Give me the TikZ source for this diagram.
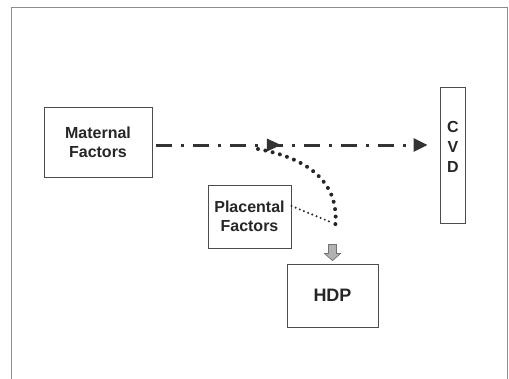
\documentclass[tikz,border=0pt]{standalone}
\usepackage{fontspec}
\setmainfont{Liberation Sans}
\usetikzlibrary{arrows.meta,decorations.markings}

\begin{document}
\begin{tikzpicture}[x=1pt,y=-1pt,
	factor/.style={draw=black!70,line width=0.9pt,fill=white,inner sep=0pt,align=center,font=\bfseries\fontsize{16}{19}\selectfont,text=black!85},
	dashdot/.style={draw=black!80,line width=3pt,dash pattern=on 16pt off 9pt on 3pt off 9pt,-{Triangle[length=14pt,width=13pt]},
		postaction={decorate},decoration={markings,mark=at position 0.43 with {\fill[black!80] (5pt,0) -- (-9pt,6.5pt) -- (-9pt,-6.5pt) -- cycle;}}},
	dots/.style={draw=black!85,line width=4pt,line cap=round,dash pattern=on 0pt off 7.5pt},
	fine dots/.style={draw=black!85,line width=2.2pt,line cap=round,dash pattern=on 0pt off 4.5pt}]
	\useasboundingbox (0,0) rectangle (509,378);
	\draw[black!45,line width=0.8pt] (11,385) -- (11,7) -- (507,7) -- (507,385);
	\node[factor,minimum width=108pt,minimum height=70pt] (mat) at (98,142) {Maternal\\Factors};
	\node[factor,minimum width=25pt,minimum height=136pt] (cvd) at (452.5,155) {};
	\node[font=\bfseries\fontsize{16}{20}\selectfont,text=black!85,align=center] (cvdtext) at (453,147) {C\\V\\D};
	\node[factor,minimum width=83pt,minimum height=63pt] (plac) at (249.5,216.5) {Placental\\Factors};
	\node[factor,minimum width=91pt,minimum height=63pt,font=\bfseries\fontsize{18}{21}\selectfont] (hdp) at (332.5,295.5) {HDP};
	\coordinate (meet) at (335,228);
	\draw[dashdot,shorten <=4pt,shorten >=12pt] (mat.east |- 0,145) -- (cvd.west |- 0,145);
	\draw[dots] (258,149) .. controls (318,160) and (340,190) .. (meet);
	\draw[fine dots] (plac.east |- 0,206) -- (333,223);
	\draw[draw=black!55,fill=black!30,line width=0.7pt] ([yshift=3pt]hdp.north) -- ++(-8,-7) -- ++(4,0) -- ++(0,-9) -- ++(8,0) -- ++(0,9) -- ++(4,0) -- cycle;
\end{tikzpicture}
\end{document}
